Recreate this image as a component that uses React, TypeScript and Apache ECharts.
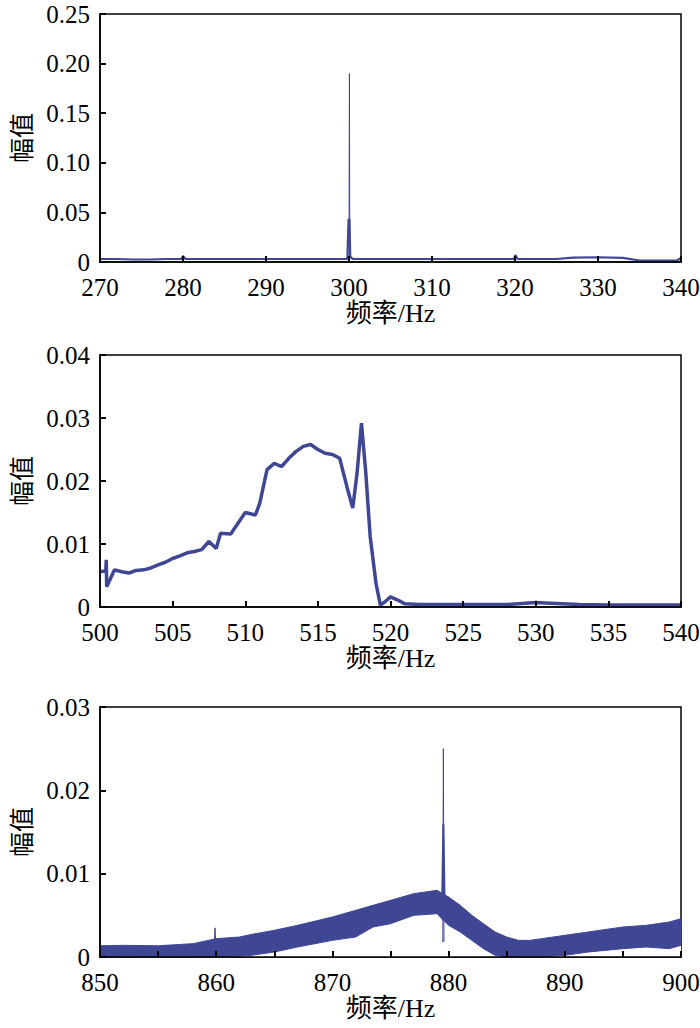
import React, { useEffect, useRef } from "react";
import * as echarts from "echarts";

const BLUE = "#3f4795";

// Panel 1 (270–340 Hz)
const freq1 = [270, 272, 274, 276, 278, 279.8, 280, 280.3, 285, 290, 295, 299.8, 299.95, 300.05, 300.15, 300.3, 300.5, 305, 310, 315, 319.9, 320.05, 320.3, 322, 325, 327, 330, 333, 335, 337, 339.5, 340];
const amp1 = [0.003, 0.003, 0.0025, 0.0025, 0.003, 0.003, 0.006, 0.003, 0.003, 0.003, 0.003, 0.003, 0.043, 0.043, 0.006, 0.004, 0.003, 0.003, 0.003, 0.003, 0.003, 0.007, 0.003, 0.003, 0.003, 0.0045, 0.0048, 0.0042, 0.0015, 0.0015, 0.0015, 0.004];
const spike1Freq = [300.0, 300.05, 300.1];
const spike1Amp = [0.003, 0.19, 0.003];

// Panel 2 (500–540 Hz)
const freq2 = [500, 500.4, 500.43, 500.46, 501, 501.5, 502, 502.5, 503, 503.5, 504, 504.5, 505, 505.5, 506, 506.5, 507, 507.5, 508, 508.3, 509, 509.5, 510, 510.7, 511, 511.5, 512, 512.5, 513, 513.5, 514, 514.5, 515, 515.5, 516, 516.5, 517, 517.4, 517.7, 518, 518.3, 518.6, 519, 519.3, 519.6, 520, 520.5, 521, 522, 524, 526, 528, 530, 531, 533, 535, 537, 540];
const amp2 = [0.0056, 0.0058, 0.0075, 0.0032, 0.0059, 0.0056, 0.0054, 0.0058, 0.0059, 0.0062, 0.0067, 0.0071, 0.0077, 0.0081, 0.0086, 0.0088, 0.0091, 0.0104, 0.0093, 0.0117, 0.0116, 0.0133, 0.015, 0.0146, 0.0165, 0.0218, 0.0228, 0.0223, 0.0236, 0.0247, 0.0255, 0.0258, 0.025, 0.0244, 0.0242, 0.0236, 0.0191, 0.0157, 0.0213, 0.0292, 0.0213, 0.0112, 0.0038, 0.0003, 0.0008, 0.0016, 0.0011, 0.0005, 0.0004, 0.0004, 0.0004, 0.0004, 0.0007, 0.0006, 0.0004, 0.0003, 0.0003, 0.0003];

// Panel 3 (850–900 Hz): noisy band, lower and upper envelopes
const freq3 = [850, 852, 855, 858, 860, 862, 863, 865, 867, 870, 872, 873.5, 875, 877, 879, 880, 881, 882, 883, 884, 885, 886, 887, 888, 890, 892, 895, 897, 899, 900];
const low3 = [0, 0, 0, 0, 0.00005, 0.0001, 0.0002, 0.0006, 0.0012, 0.002, 0.0024, 0.0036, 0.004, 0.005, 0.0052, 0.0038, 0.003, 0.002, 0.001, 0.0002, 0, 0, 0, 0, 0.0002, 0.0006, 0.001, 0.0012, 0.001, 0.0014];
const high3 = [0.00135, 0.0014, 0.00135, 0.0016, 0.0022, 0.0024, 0.0027, 0.0032, 0.0038, 0.0048, 0.0056, 0.0062, 0.0068, 0.0076, 0.008, 0.0072, 0.0062, 0.005, 0.004, 0.003, 0.0024, 0.002, 0.002, 0.0022, 0.0026, 0.003, 0.0036, 0.0038, 0.0042, 0.0046];
const spike3Freq = [879.5, 879.55, 879.6];
const spike3Amp = [0.0018, 0.025, 0.0018];
const thick3Freq = [879.45, 879.55, 879.65];
const thick3Amp = [0.007, 0.016, 0.007];
const small3Freq = [859.85, 859.9, 859.95];
const small3Amp = [0.002, 0.0035, 0.002];

const zip = (xs: number[], ys: number[]) => xs.map((x, i) => [x, ys[i]]);

const FONT = "Liberation Serif, serif";
const CJK = "Liberation Serif, Noto Sans CJK SC, serif";

const grids = [
  { left: 100, top: 14, width: 581, height: 248 },
  { left: 100, top: 355, width: 581, height: 252 },
  { left: 100, top: 707, width: 581, height: 250 },
];

function xAxis(i: number, min: number, max: number, interval: number, labelEvery: number) {
  return {
    type: "value",
    gridIndex: i,
    min,
    max,
    interval,
    z: 10,
    axisLine: { show: true, onZero: false, lineStyle: { color: "#000", width: 1.5 } },
    axisTick: { show: true, inside: true, length: 6, lineStyle: { color: "#000", width: 2 } },
    axisLabel: {
      color: "#000",
      fontFamily: FONT,
      fontSize: 25,
      lineHeight: 20,
      margin: 15,
      formatter: (v: number) => (Math.round(v) % labelEvery === 0 ? String(Math.round(v)) : ""),
    },
    splitLine: { show: false },
    name: "频率/Hz",
    nameLocation: "middle",
    nameGap: 35,
    nameTextStyle: { fontFamily: CJK, fontSize: 26, color: "#000" },
  };
}

function yAxis(i: number, max: number, interval: number) {
  return {
    type: "value",
    gridIndex: i,
    min: 0,
    max,
    interval,
    z: 10,
    axisLine: { show: true, lineStyle: { color: "#000", width: 1.5 } },
    axisTick: { show: true, inside: true, length: 6, lineStyle: { color: "#000", width: 2 } },
    axisLabel: {
      color: "#000",
      fontFamily: FONT,
      fontSize: 25,
      lineHeight: 18,
      margin: 10,
      formatter: (v: number) => (v === 0 ? "0" : v.toFixed(2)),
    },
    splitLine: { show: false },
    name: "幅值",
    nameLocation: "middle",
    nameRotate: 90,
    nameGap: 68,
    nameTextStyle: { fontFamily: "Noto Sans CJK SC", fontSize: 25, color: "#000" },
  };
}

function lineSeries(xi: number, data: number[][], width: number, extra: any = {}) {
  return {
    type: "line",
    xAxisIndex: xi,
    yAxisIndex: xi,
    data,
    showSymbol: false,
    symbol: "none",
    lineStyle: { color: BLUE, width },
    itemStyle: { color: BLUE },
    z: 3,
    ...extra,
  };
}

export default function App() {
  const ref = useRef<HTMLDivElement>(null);
  useEffect(() => {
    if (!ref.current) return;
    const chart = echarts.init(ref.current, null, { renderer: "svg" });
    chart.setOption({
      animation: false,
      backgroundColor: "#fff",
      grid: grids.map((g) => ({
        ...g,
        show: true,
        borderColor: "#000",
        borderWidth: 1.5,
        backgroundColor: "transparent",
        containLabel: false,
        outerBoundsMode: "none",
      })),
      xAxis: [xAxis(0, 270, 340, 10, 10), xAxis(1, 500, 540, 5, 5), xAxis(2, 850, 900, 5, 10)],
      yAxis: [yAxis(0, 0.25, 0.05), yAxis(1, 0.04, 0.01), yAxis(2, 0.03, 0.01)],
      series: [
        lineSeries(0, zip(freq1, amp1), 2.2),
        lineSeries(0, zip(spike1Freq, spike1Amp), 1),
        lineSeries(1, zip(freq2, amp2), 3.5),
        lineSeries(2, zip(freq3, high3), 1, { areaStyle: { color: BLUE, opacity: 1 }, z: 3 }),
        lineSeries(2, zip(freq3, low3), 1, {
          lineStyle: { color: BLUE, width: 1 },
          areaStyle: { color: "#fff", opacity: 1 },
          z: 4,
        }),
        lineSeries(2, zip(thick3Freq, thick3Amp), 2, { z: 5 }),
        lineSeries(2, zip(spike3Freq, spike3Amp), 1, { z: 5 }),
        lineSeries(2, zip(small3Freq, small3Amp), 1, { z: 5 }),
      ],
    });
    return () => chart.dispose();
  }, []);
  return <div ref={ref} style={{ position: "absolute", left: 0, top: 0, width: 700, height: 1028 }} />;
}
